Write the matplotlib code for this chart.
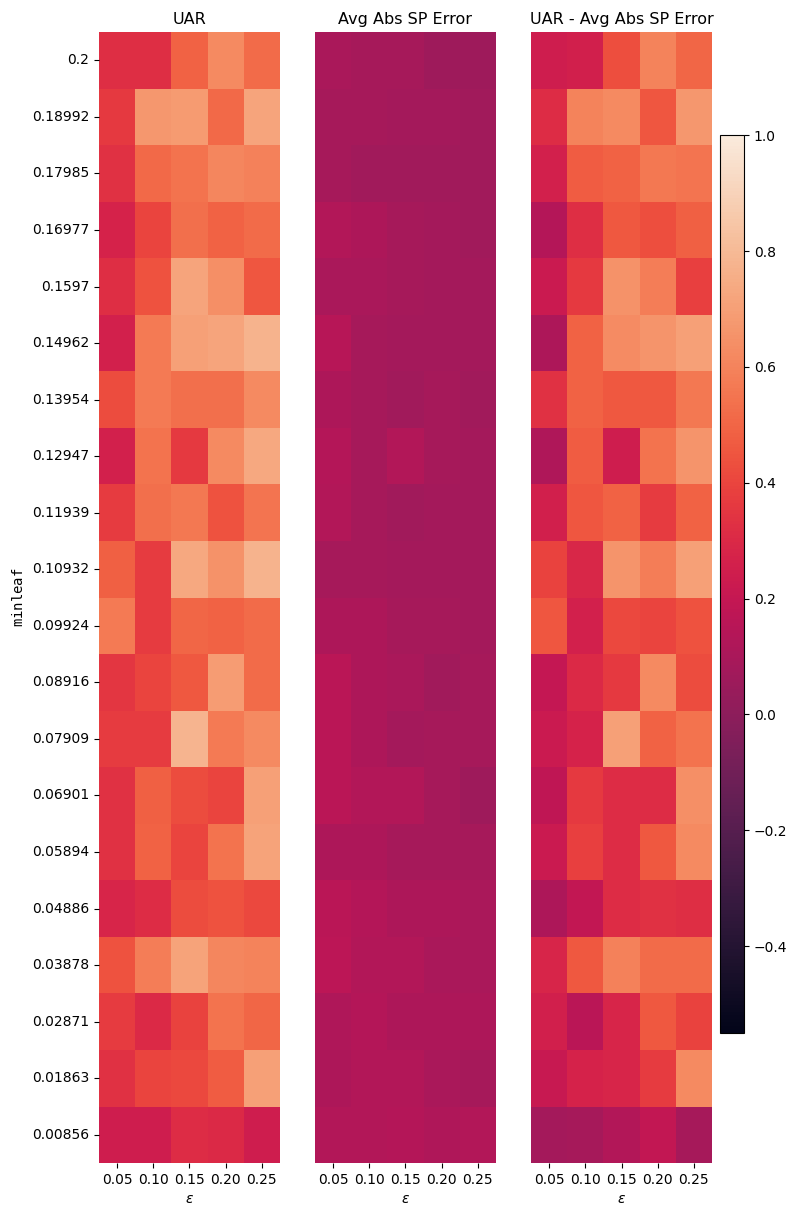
import numpy as np
import matplotlib
matplotlib.use("Agg")
import matplotlib.pyplot as plt
import seaborn as sns

eps_labels = ["0.05", "0.10", "0.15", "0.20", "0.25"]
minleaf_labels = ["0.2", "0.18992", "0.17985", "0.16977", "0.1597", "0.14962",
                  "0.13954", "0.12947", "0.11939", "0.10932", "0.09924", "0.08916",
                  "0.07909", "0.06901", "0.05894", "0.04886", "0.03878", "0.02871",
                  "0.01863", "0.00856"]

uar = [
    [0.32, 0.32, 0.49, 0.62, 0.52],
    [0.36, 0.67, 0.68, 0.51, 0.72],
    [0.33, 0.51, 0.54, 0.61, 0.59],
    [0.27, 0.40, 0.53, 0.49, 0.52],
    [0.32, 0.44, 0.72, 0.64, 0.45],
    [0.26, 0.57, 0.70, 0.72, 0.77],
    [0.42, 0.57, 0.53, 0.53, 0.62],
    [0.26, 0.54, 0.36, 0.62, 0.73],
    [0.37, 0.53, 0.56, 0.44, 0.55],
    [0.48, 0.37, 0.73, 0.65, 0.77],
    [0.57, 0.37, 0.50, 0.49, 0.52],
    [0.35, 0.40, 0.46, 0.69, 0.52],
    [0.37, 0.37, 0.78, 0.57, 0.62],
    [0.33, 0.48, 0.42, 0.40, 0.70],
    [0.33, 0.49, 0.40, 0.54, 0.71],
    [0.28, 0.31, 0.42, 0.44, 0.41],
    [0.44, 0.58, 0.71, 0.61, 0.60],
    [0.37, 0.30, 0.39, 0.54, 0.50],
    [0.33, 0.40, 0.41, 0.47, 0.70],
    [0.24, 0.24, 0.31, 0.30, 0.24],
]

sp_err = [
    [0.10, 0.09, 0.09, 0.06, 0.06],
    [0.09, 0.09, 0.08, 0.08, 0.07],
    [0.09, 0.07, 0.07, 0.07, 0.07],
    [0.13, 0.11, 0.09, 0.08, 0.07],
    [0.10, 0.10, 0.09, 0.08, 0.08],
    [0.15, 0.09, 0.08, 0.08, 0.08],
    [0.11, 0.09, 0.07, 0.09, 0.07],
    [0.14, 0.09, 0.13, 0.09, 0.08],
    [0.13, 0.09, 0.07, 0.08, 0.08],
    [0.09, 0.09, 0.08, 0.08, 0.08],
    [0.11, 0.11, 0.09, 0.09, 0.08],
    [0.16, 0.11, 0.10, 0.07, 0.09],
    [0.16, 0.11, 0.08, 0.09, 0.09],
    [0.16, 0.13, 0.13, 0.09, 0.06],
    [0.11, 0.11, 0.09, 0.09, 0.09],
    [0.16, 0.14, 0.11, 0.11, 0.10],
    [0.17, 0.13, 0.13, 0.10, 0.10],
    [0.12, 0.14, 0.11, 0.11, 0.11],
    [0.11, 0.13, 0.13, 0.10, 0.09],
    [0.13, 0.13, 0.14, 0.12, 0.13],
]

uar_minus = [
    [0.24, 0.25, 0.43, 0.60, 0.50],
    [0.31, 0.60, 0.62, 0.45, 0.67],
    [0.26, 0.47, 0.49, 0.56, 0.55],
    [0.14, 0.32, 0.46, 0.43, 0.48],
    [0.22, 0.36, 0.65, 0.58, 0.38],
    [0.11, 0.49, 0.63, 0.66, 0.70],
    [0.33, 0.49, 0.46, 0.46, 0.56],
    [0.12, 0.47, 0.24, 0.54, 0.66],
    [0.25, 0.45, 0.49, 0.37, 0.49],
    [0.39, 0.29, 0.66, 0.58, 0.70],
    [0.45, 0.26, 0.41, 0.40, 0.44],
    [0.20, 0.30, 0.36, 0.62, 0.42],
    [0.22, 0.27, 0.70, 0.49, 0.54],
    [0.18, 0.36, 0.31, 0.31, 0.64],
    [0.22, 0.38, 0.31, 0.46, 0.62],
    [0.11, 0.19, 0.31, 0.33, 0.32],
    [0.28, 0.46, 0.59, 0.52, 0.52],
    [0.25, 0.16, 0.28, 0.46, 0.39],
    [0.21, 0.27, 0.28, 0.37, 0.62],
    [0.08, 0.09, 0.13, 0.19, 0.09],
]

titles = ["UAR", "Avg Abs SP Error", "UAR - Avg Abs SP Error"]
vmin, vmax = -0.55, 1.0

fig = plt.figure(figsize=(7.92, 12.1), dpi=100)
lefts = [0.125, 0.3977, 0.6705]
axes = [fig.add_axes([l, 0.0388, 0.2285, 0.9347]) for l in lefts]
cax = fig.add_axes([0.909, 0.1463, 0.0303, 0.742])

for i, (ax, data, title) in enumerate(zip(axes, [uar, sp_err, uar_minus], titles)):
    sns.heatmap(np.array(data), ax=ax, cmap="rocket", vmin=vmin, vmax=vmax,
                cbar=False, xticklabels=eps_labels,
                yticklabels=minleaf_labels if i == 0 else False)
    ax.set_title(title, fontsize=11.5)
    ax.set_xlabel(r"$\epsilon$")
    ax.tick_params(axis="x", rotation=0)
    if i == 0:
        ax.set_ylabel(r"$\mathtt{minleaf}$")
        ax.tick_params(axis="y", rotation=0)
    else:
        ax.set_ylabel("")

cb = fig.colorbar(axes[2].collections[0], cax=cax)
cb.outline.set_linewidth(0.8)

plt.savefig("out.png", dpi=100)
